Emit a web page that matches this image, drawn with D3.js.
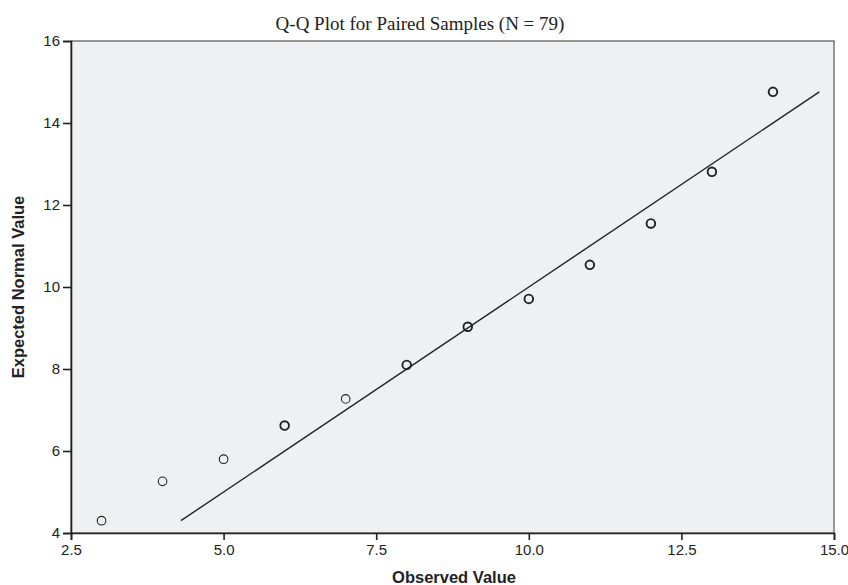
<!DOCTYPE html>
<html><head><meta charset="utf-8">
<script src="https://cdn.jsdelivr.net/npm/d3@7"></script>
<style>body{margin:0;background:#fff}</style>
</head><body>
<svg id="c" width="848" height="585"></svg>
<script>
const observed = [3, 4, 5, 6, 7, 8, 9, 10, 11, 12, 13, 14];
const expected = [4.30, 5.26, 5.80, 6.62, 7.27, 8.10, 9.03, 9.71, 10.54, 11.55, 12.81, 14.76];
const repeated = [false, false, false, true, false, true, true, true, true, true, true, true];
const xTicks = [2.5, 5.0, 7.5, 10.0, 12.5, 15.0];
const yTicks = [4, 6, 8, 10, 12, 14, 16];
const title = "Q-Q Plot for Paired Samples (N = 79)";

const svg = d3.select("#c");
const L = 71, R = 834, T = 41, B = 533;
const x = d3.scaleLinear().domain([2.5, 15]).range([L, R]);
const y = d3.scaleLinear().domain([4, 16]).range([B, T]);

svg.append("rect").attr("x", L).attr("y", T).attr("width", R - L).attr("height", B - T)
  .attr("fill", "#eff0f2").attr("stroke", "#555").attr("stroke-width", 1.2);

const xa = svg.append("g").attr("transform", `translate(0,${B})`)
  .call(d3.axisBottom(x).tickValues(xTicks).tickFormat(d3.format(".1f")).tickSize(7).tickPadding(4));
const ya = svg.append("g").attr("transform", `translate(${L},0)`)
  .call(d3.axisLeft(y).tickValues(yTicks).tickFormat(d3.format("d")).tickSize(8).tickPadding(3));
[xa, ya].forEach(a => {
  a.select(".domain").attr("stroke", "#222").attr("stroke-width", 1.6);
  a.selectAll(".tick line").attr("stroke", "#222").attr("stroke-width", 1.6);
  a.selectAll("text").attr("font-family", "Liberation Sans, Arial, sans-serif")
    .attr("font-size", 15).attr("fill", "#222");
});

// reference line y = x
const lo = d3.min(expected), hi = d3.max(expected);
svg.append("line").attr("x1", x(lo)).attr("y1", y(lo)).attr("x2", x(hi)).attr("y2", y(hi))
  .attr("stroke", "#222").attr("stroke-width", 1.4);

svg.append("g").selectAll("circle").data(observed).join("circle")
  .attr("cx", d => x(d)).attr("cy", (d, i) => y(expected[i])).attr("r", 4.3)
  .attr("fill", "none").attr("stroke", "#222")
  .attr("stroke-width", (d, i) => repeated[i] ? 1.9 : 1.1);

svg.append("text").attr("x", 420).attr("y", 30).attr("text-anchor", "middle")
  .attr("font-family", "Liberation Serif, Times New Roman, serif").attr("font-size", 19)
  .attr("fill", "#222").text(title);

svg.append("text").attr("x", 454).attr("y", 583).attr("text-anchor", "middle")
  .attr("font-family", "Liberation Sans, Arial, sans-serif").attr("font-size", 16.5)
  .attr("font-weight", "bold").attr("fill", "#222").text("Observed Value");

svg.append("text").attr("transform", "translate(24,287) rotate(-90)").attr("text-anchor", "middle")
  .attr("font-family", "Liberation Sans, Arial, sans-serif").attr("font-size", 16.5)
  .attr("font-weight", "bold").attr("fill", "#222").text("Expected Normal Value");
</script>
</body></html>
